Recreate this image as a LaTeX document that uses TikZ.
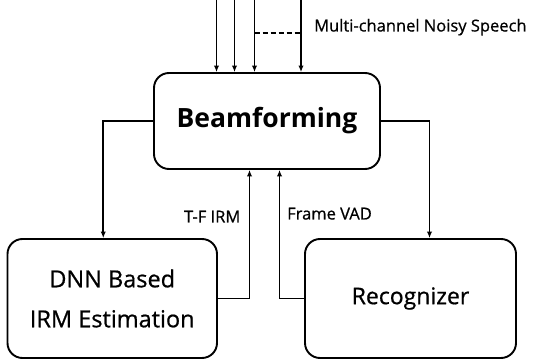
\documentclass[tikz,border=0pt]{standalone}
\usepackage{fontspec}
\setmainfont{Open Sans}
\newfontfamily\medfont[FakeBold=0.7]{Open Sans}
\usetikzlibrary{arrows.meta}

\begin{document}
\begin{tikzpicture}[x=1pt,y=-1pt,
  block/.style={draw, line width=1.9pt, rounded corners=15pt, inner sep=0pt, align=center},
  arr/.style={line width=1.7pt, -{Latex[length=6.5pt,width=5.5pt]}},
  lbl/.style={inner sep=0pt, font=\medfont\fontsize{16.5}{20}\selectfont}]
\useasboundingbox (0,0) rectangle (533,363);

% processing blocks
\node[block, minimum width=226pt, minimum height=96pt,
      font=\fontsize{26.5}{32}\selectfont\bfseries] (bf) at (267,121) {Beamforming};
\node[block, minimum width=209.5pt, minimum height=119pt,
      font=\medfont\fontsize{23.5}{40}\selectfont] (dnn) at (112.25,298.5) {DNN Based\\IRM Estimation};
\node[block, minimum width=211pt, minimum height=119pt,
      font=\medfont\fontsize{23}{28}\selectfont] (rec) at (410.5,298.5) {Recognizer};

% microphone channels entering the beamformer
\coordinate (in1) at (216.5,0);
\coordinate (in2) at (234.5,0);
\coordinate (in3) at (254.5,0);
\coordinate (in4) at (301,0);
\foreach \c in {in1,in2,in3,in4}
  \draw[arr] (\c) -- (\c |- bf.north);
\draw[line width=1.6pt, dash pattern=on 5pt off 3pt] ([yshift=-33pt]in3) -- ([yshift=-33pt]in4);
\node[lbl, anchor=base west] (ms) at (314,31.5) {Multi-channel Noisy Speech};

% beamformer output to the two back-end blocks
\draw[arr] (bf.west) -| ([xshift=-9pt]dnn.north);
\draw[arr] (bf.east) -| ([xshift=19pt]rec.north);

% feedback paths
\draw[arr] (dnn.east) -| ([xshift=-17.5pt]bf.south);
\draw[arr] (rec.west) -| ([xshift=12.5pt]bf.south);
\node[lbl, anchor=base east] (tf) at (240.5,222.5) {T-F IRM};
\node[lbl, anchor=base west] (vad) at (287,219.5) {Frame VAD};
\end{tikzpicture}
\end{document}
